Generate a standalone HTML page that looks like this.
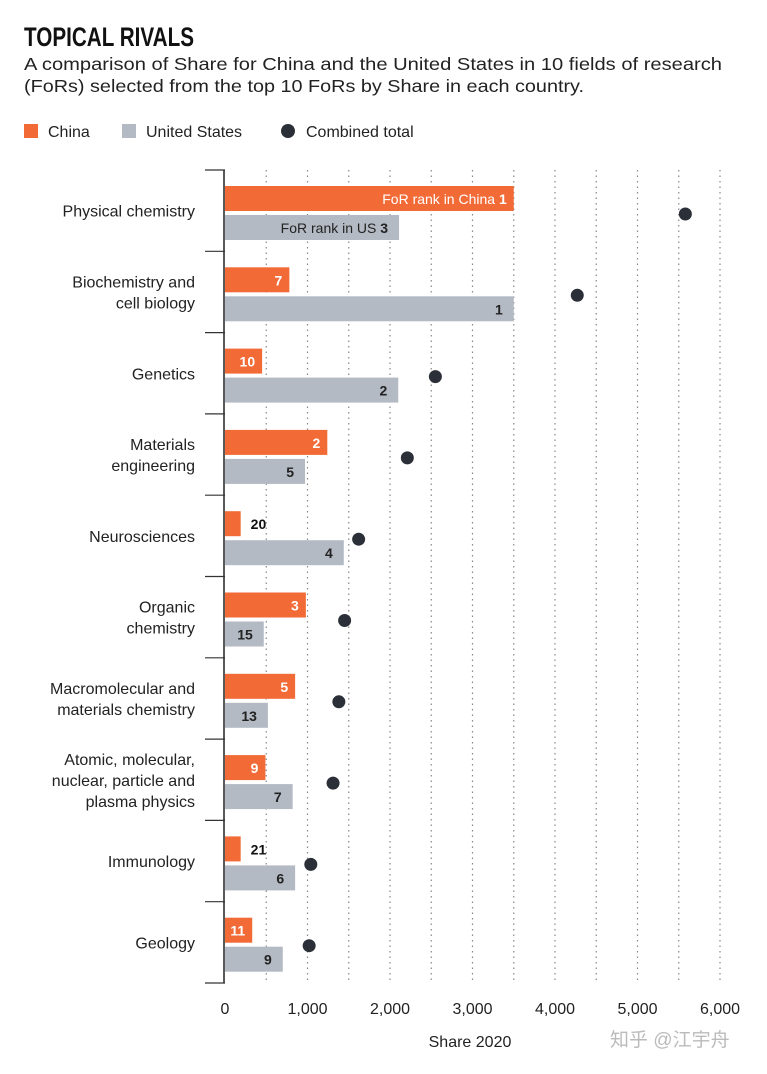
<!DOCTYPE html>
<html><head><meta charset="utf-8"><style>
body{margin:0;background:#fff;font-family:"Liberation Sans","Noto Sans CJK SC",sans-serif;}
svg text{font-family:"Liberation Sans","Noto Sans CJK SC",sans-serif;}
</style></head><body>
<svg id="c" width="767" height="1069" viewBox="0 0 767 1069" xmlns="http://www.w3.org/2000/svg">
<text x="24" y="46" font-size="27" font-weight="bold" fill="#111" textLength="170" lengthAdjust="spacingAndGlyphs">TOPICAL RIVALS</text>
<text x="24" y="70" font-size="17.5" fill="#222" textLength="698" lengthAdjust="spacingAndGlyphs">A comparison of Share for China and the United States in 10 fields of research</text>
<text x="24" y="92" font-size="17.5" fill="#222" textLength="560" lengthAdjust="spacingAndGlyphs">(FoRs) selected from the top 10 FoRs by Share in each country.</text>
<g>
<rect x="24" y="124" width="14" height="14" fill="#f26a35"/>
<text x="48" y="137" font-size="16" fill="#222">China</text>
<rect x="122" y="124" width="14" height="14" fill="#b4bac3"/>
<text x="146" y="137" font-size="16" fill="#222">United States</text>
<circle cx="288" cy="131" r="7" fill="#2b3038"/>
<text x="306" y="137" font-size="16" fill="#222">Combined total</text>
</g>
<g id="plot"></g>
<text x="470" y="1047" font-size="16" text-anchor="middle" fill="#222">Share 2020</text>
<text x="610" y="1046" font-size="19" fill="#bbb">知乎 @江宇舟</text>
</svg>
<script>
const categories=[["Physical chemistry"],["Biochemistry and","cell biology"],["Genetics"],["Materials","engineering"],["Neurosciences"],["Organic","chemistry"],["Macromolecular and","materials chemistry"],["Atomic, molecular,","nuclear, particle and","plasma physics"],["Immunology"],["Geology"]];
const chinaValues=[3500,780,450,1240,190,980,850,490,190,330];
const usValues=[2110,3500,2100,970,1440,470,520,820,850,700];
const totalValues=[5580,4270,2550,2210,1620,1450,1380,1310,1040,1020];
const chinaRanks=["1","7","10","2","20","3","5","9","21","11"];
const usRanks=["3","1","2","5","4","15","13","7","6","9"];
const xTicks=[0,1000,2000,3000,4000,5000,6000];
const xTickLabels=["0","1,000","2,000","3,000","4,000","5,000","6,000"];
const NS="http://www.w3.org/2000/svg";
const g=document.getElementById('plot');
const x0=225,pxPer=0.0825,topY=170,rowH=81.3;
const xs=v=>x0+v*pxPer;
function mk(t,a){const e=document.createElementNS(NS,t);for(const k in a)e.setAttribute(k,a[k]);g.appendChild(e);return e;}
for(let v=500;v<=6000;v+=500){const l=mk('line',{x1:xs(v),x2:xs(v),y1:topY,y2:topY+rowH*10,stroke:'#888','stroke-width':1.2,'stroke-dasharray':'1.5 4'});

}
xTicks.forEach((v,i)=>{const t=mk('text',{x:xs(v),y:1014,'font-size':16,'text-anchor':'middle',fill:'#222'});t.textContent=xTickLabels[i];

});
const ax=mk('line',{x1:x0-1,x2:x0-1,y1:topY,y2:topY+rowH*10,stroke:'#222','stroke-width':1.5});


for(let i=0;i<=10;i++){const y=topY+rowH*i;const l=mk('line',{x1:205,x2:x0,y1:y,y2:y,stroke:'#333','stroke-width':1.2});

}
categories.forEach((c,i)=>{
const y=topY+rowH*i;const cy=y+rowH/2;
const n=c.length;
c.forEach((ln,j)=>{const t=mk('text',{x:195,y:cy+6+(j-(n-1)/2)*21,'font-size':16,'text-anchor':'end',fill:'#222'});t.textContent=ln;

});
const cb=mk('rect',{x:x0,y:y+16,width:chinaValues[i]*pxPer,height:25,fill:'#f26a35'});


const ub=mk('rect',{x:x0,y:y+45,width:usValues[i]*pxPer,height:25,fill:'#b4bac3'});


const cw=chinaValues[i]*pxPer;
let ct;
if(cw<25){ct=mk('text',{x:x0+cw+10,y:y+34,'font-size':14,'font-weight':'bold',fill:'#111'});ct.textContent=chinaRanks[i];}
else{ct=mk('text',{x:x0+cw-7,y:y+34,'font-size':14,'font-weight':'bold','text-anchor':'end',fill:'#fff'});
if(i===0){const s1=document.createElementNS(NS,'tspan');s1.setAttribute('font-weight','normal');s1.textContent='FoR rank in China ';ct.appendChild(s1);const s2=document.createElementNS(NS,'tspan');s2.textContent=chinaRanks[i];ct.appendChild(s2);}
else ct.textContent=chinaRanks[i];}


const uw=usValues[i]*pxPer;
const ut=mk('text',{x:x0+uw-11,y:y+63,'font-size':14,'font-weight':'bold','text-anchor':'end',fill:'#222'});
if(i===0){const s1=document.createElementNS(NS,'tspan');s1.setAttribute('font-weight','normal');s1.textContent='FoR rank in US ';ut.appendChild(s1);const s2=document.createElementNS(NS,'tspan');s2.textContent=usRanks[i];ut.appendChild(s2);}
else ut.textContent=usRanks[i];


const d=mk('circle',{cx:xs(totalValues[i]),cy:y+44,r:6.5,fill:'#2b3038'});


});
</script>
</body></html>
